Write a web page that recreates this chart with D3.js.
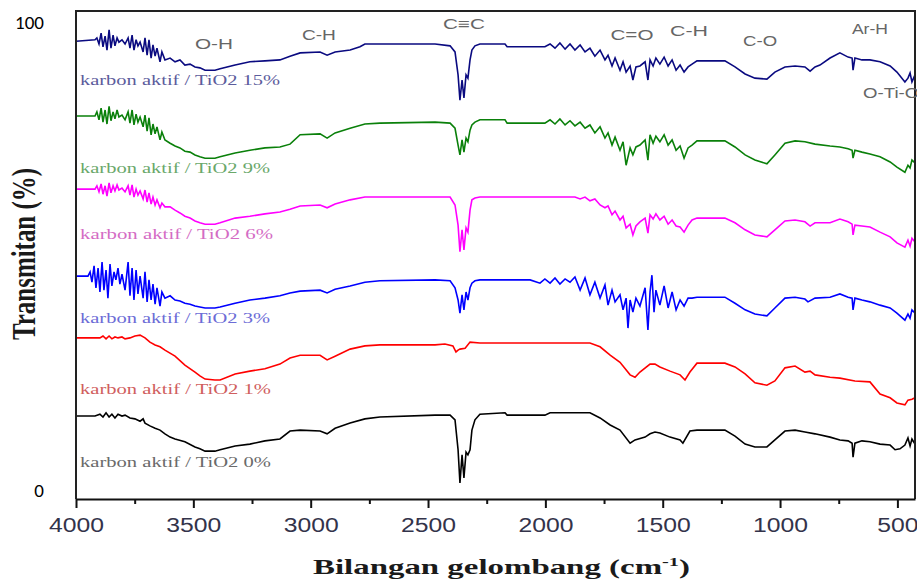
<!DOCTYPE html>
<html><head><meta charset="utf-8">
<script src="https://cdn.jsdelivr.net/npm/d3@7"></script>
<style>body{margin:0;background:#fff}svg{display:block}</style>
</head><body><svg id="c" width="917" height="580"></svg>
<script>
// ---------- data ----------
const xTickValues = [4000,3500,3000,2500,2000,1500,1000,500];
const xMinorTicks = [3750,3250,2750,2250,1750,1250,750];
const yTickLabels = [0,100];
const seriesNames = ["karbon aktif / TiO2 15%","karbon aktif / TiO2 9%","karbon aktif / TiO2 6%","karbon aktif / TiO2 3%","karbon aktif / TiO2 1%","karbon aktif / TiO2 0%"];
const bandLabels = [["O-H",3412],["C-H",2965],["C\u2261C",2347],["C=O",1631],["C-H",1388],["C-O",1085],["Ar-H",617],["O-Ti-O",646]];

const s15 = [[4000,95.9],[3919,96.2],[3911,96.6],[3902,95.3],[3893,97.6],[3885,94.7],[3876,97.0],[3868,94.0],[3859,98.3],[3851,94.4],[3842,97.2],[3834,94.9],[3825,96.6],[3817,95.7],[3804,96.2],[3791,95.3],[3778,96.6],[3770,94.4],[3761,97.2],[3753,94.0],[3744,96.2],[3736,94.9],[3727,95.7],[3714,93.6],[3706,96.6],[3697,92.9],[3689,96.2],[3680,92.3],[3672,95.1],[3663,92.7],[3655,94.4],[3642,91.5],[3634,93.6],[3621,91.9],[3599,92.3],[3578,91.5],[3557,91.9],[3536,90.8],[3514,91.0],[3493,90.4],[3472,90.2],[3450,89.7],[3408,89.7],[3386,90.0],[3322,90.8],[3259,91.5],[3195,91.7],[3131,91.9],[3088,92.7],[3045,93.4],[2960,93.6],[2930,92.9],[2896,93.6],[2832,94.0],[2790,94.7],[2769,95.3],[2470,95.3],[2406,94.9],[2385,93.6],[2372,88.7],[2364,83.3],[2355,87.6],[2347,83.8],[2338,88.7],[2330,88.0],[2321,91.9],[2313,94.0],[2300,94.9],[2279,95.3],[2172,95.3],[2163,94.7],[2002,94.7],[1980,95.3],[1959,94.4],[1938,95.5],[1916,94.2],[1895,95.3],[1874,94.0],[1852,95.1],[1831,93.6],[1810,94.4],[1789,92.7],[1767,94.0],[1746,91.9],[1733,92.9],[1716,90.6],[1703,92.3],[1682,89.7],[1669,91.5],[1656,89.3],[1639,90.6],[1627,87.6],[1614,90.4],[1597,90.6],[1575,91.5],[1563,87.6],[1554,91.9],[1541,90.6],[1529,92.3],[1512,91.0],[1494,92.5],[1477,90.6],[1460,91.9],[1443,89.7],[1426,90.8],[1409,89.3],[1392,90.4],[1375,91.0],[1354,91.7],[1235,91.7],[1192,90.4],[1149,88.9],[1107,88.0],[1056,87.8],[1022,89.3],[979,90.4],[936,90.6],[894,90.4],[872,89.5],[851,90.4],[830,90.8],[787,92.3],[745,93.4],[710,92.5],[693,92.3],[689,89.7],[681,92.3],[651,91.9],[617,91.9],[574,91.5],[531,90.6],[502,89.3],[468,87.2],[455,88.0],[446,89.1],[438,87.2],[425,88.7]];

const s9 = [[4000,79.9],[3919,79.9],[3911,80.8],[3902,79.1],[3893,81.6],[3885,78.6],[3876,81.2],[3868,78.2],[3859,82.0],[3851,78.9],[3842,80.8],[3834,79.3],[3825,81.2],[3817,79.7],[3804,80.1],[3791,79.1],[3778,80.8],[3770,78.4],[3761,81.2],[3753,78.0],[3744,80.3],[3736,78.6],[3727,79.7],[3714,77.6],[3706,80.1],[3697,76.7],[3689,79.5],[3680,75.9],[3672,78.2],[3663,76.1],[3655,77.6],[3642,74.8],[3634,76.5],[3621,74.8],[3599,74.1],[3578,73.5],[3557,73.1],[3536,72.4],[3514,72.2],[3493,71.6],[3472,71.2],[3450,70.9],[3408,70.9],[3386,71.2],[3322,72.0],[3259,72.6],[3195,73.1],[3131,73.3],[3088,73.9],[3045,75.9],[2960,76.1],[2930,75.2],[2896,76.3],[2832,77.3],[2769,78.2],[2705,78.4],[2470,78.6],[2406,78.4],[2385,77.3],[2372,73.7],[2364,71.6],[2355,74.8],[2347,72.2],[2338,75.2],[2330,74.4],[2321,76.9],[2313,78.0],[2300,78.6],[2279,79.1],[2172,79.1],[2163,78.4],[2002,78.4],[1980,79.1],[1959,78.2],[1938,79.3],[1916,78.0],[1895,78.9],[1874,77.8],[1852,78.6],[1831,77.3],[1810,78.0],[1789,76.3],[1767,77.6],[1746,75.2],[1733,76.3],[1716,73.7],[1703,75.4],[1682,72.6],[1669,74.4],[1656,69.4],[1639,73.1],[1627,71.6],[1614,73.3],[1597,73.7],[1575,74.8],[1563,70.5],[1554,75.9],[1541,74.1],[1529,75.6],[1512,74.4],[1494,75.9],[1477,73.7],[1460,74.8],[1443,72.6],[1426,73.5],[1409,70.9],[1392,73.1],[1375,73.7],[1354,74.6],[1235,74.6],[1192,73.3],[1149,71.6],[1107,70.5],[1056,69.7],[1022,71.6],[979,74.1],[936,74.6],[894,74.4],[851,73.9],[787,73.5],[745,73.3],[710,72.9],[693,72.6],[689,70.9],[681,72.6],[651,72.2],[617,71.8],[574,71.2],[531,70.1],[502,69.0],[468,67.9],[455,69.4],[446,68.8],[438,70.5],[425,69.9]];

const s6 = [[4000,64.3],[3919,64.3],[3911,65.0],[3902,63.7],[3893,65.4],[3885,63.2],[3876,65.0],[3868,62.8],[3859,65.6],[3851,63.5],[3842,65.0],[3834,63.9],[3825,65.2],[3817,64.1],[3804,64.5],[3791,63.7],[3778,65.0],[3770,63.0],[3761,65.2],[3753,62.6],[3744,64.3],[3736,63.0],[3727,63.9],[3714,62.2],[3706,64.1],[3697,61.5],[3689,63.5],[3680,61.1],[3672,62.6],[3663,60.9],[3655,62.0],[3642,60.3],[3634,61.3],[3621,60.5],[3599,60.5],[3578,59.8],[3557,59.2],[3536,58.5],[3514,58.1],[3493,57.5],[3472,57.1],[3450,56.8],[3408,56.8],[3386,57.1],[3322,58.1],[3259,58.5],[3195,59.0],[3131,59.4],[3088,60.0],[3045,60.7],[2960,60.9],[2930,60.3],[2896,61.1],[2832,62.0],[2769,62.6],[2470,62.6],[2406,62.6],[2385,60.9],[2372,56.6],[2364,50.9],[2355,55.6],[2347,51.3],[2338,56.0],[2330,55.1],[2321,59.8],[2313,62.0],[2300,62.4],[2279,62.6],[1874,62.6],[1852,62.2],[1831,62.6],[1810,61.8],[1789,62.2],[1767,60.9],[1746,60.3],[1733,60.7],[1716,58.8],[1703,59.6],[1682,57.7],[1669,58.5],[1656,56.0],[1639,56.8],[1627,54.5],[1614,56.4],[1597,57.3],[1575,58.1],[1563,54.9],[1554,58.8],[1541,57.9],[1529,59.0],[1512,57.7],[1494,58.5],[1477,56.8],[1460,57.7],[1443,56.4],[1426,56.2],[1409,55.1],[1392,56.6],[1375,57.7],[1354,58.1],[1235,58.1],[1192,57.1],[1149,55.6],[1107,54.5],[1056,54.1],[1022,55.6],[979,57.5],[936,57.7],[894,57.3],[872,56.4],[851,57.1],[787,57.1],[745,57.9],[710,57.3],[693,56.8],[689,54.5],[681,56.6],[651,56.4],[617,56.2],[574,55.1],[531,54.1],[502,52.8],[468,51.9],[455,53.4],[446,52.1],[438,53.8],[425,53.0]];

const s3 = [[4000,45.7],[3949,45.7],[3940,46.6],[3932,44.4],[3923,47.9],[3915,43.2],[3906,47.4],[3898,42.3],[3889,48.7],[3881,42.7],[3872,47.0],[3864,41.0],[3855,48.3],[3847,43.6],[3838,46.6],[3830,44.9],[3821,47.4],[3813,44.0],[3804,46.1],[3791,42.7],[3778,48.7],[3770,41.5],[3761,47.4],[3753,40.6],[3744,47.0],[3736,41.9],[3727,45.7],[3714,41.0],[3706,46.6],[3697,40.2],[3689,44.9],[3680,40.6],[3672,44.0],[3663,39.7],[3655,43.2],[3642,39.3],[3634,42.3],[3621,41.0],[3599,41.5],[3578,40.6],[3557,40.4],[3536,39.9],[3514,39.7],[3493,39.3],[3472,39.1],[3450,38.9],[3408,38.9],[3386,39.1],[3322,39.9],[3259,40.6],[3195,41.0],[3131,41.5],[3088,42.1],[3045,42.5],[2960,42.7],[2930,42.1],[2896,42.9],[2832,43.6],[2769,44.4],[2705,44.7],[2470,44.9],[2406,44.7],[2385,43.2],[2372,40.6],[2364,37.8],[2355,41.7],[2347,38.5],[2338,42.3],[2330,40.6],[2321,43.2],[2313,44.2],[2300,44.7],[2279,44.9],[2065,44.9],[2023,44.2],[2002,45.1],[1980,44.2],[1959,45.3],[1938,44.0],[1916,45.1],[1895,44.4],[1874,45.5],[1852,42.7],[1831,45.3],[1810,41.7],[1789,44.4],[1767,41.0],[1746,43.8],[1733,39.5],[1716,42.7],[1703,40.2],[1682,41.7],[1669,38.5],[1656,41.0],[1648,34.6],[1639,40.6],[1627,38.0],[1614,41.0],[1597,39.3],[1575,43.2],[1563,34.2],[1554,42.3],[1546,45.9],[1537,38.0],[1529,42.7],[1512,39.5],[1494,43.6],[1477,38.9],[1460,42.3],[1443,38.5],[1426,40.6],[1409,39.3],[1392,41.0],[1375,41.0],[1354,41.2],[1235,41.2],[1192,39.9],[1149,38.5],[1107,37.6],[1056,37.2],[1022,38.9],[979,41.0],[936,41.2],[894,40.8],[881,40.2],[851,41.0],[787,41.2],[745,41.9],[710,41.2],[693,41.0],[689,38.5],[681,41.0],[651,40.6],[617,40.2],[574,39.5],[531,38.9],[502,37.8],[468,36.3],[455,37.6],[446,36.7],[438,38.5],[425,37.8]];

const s1 = [[4000,32.5],[3898,32.5],[3885,32.9],[3872,32.3],[3859,32.9],[3847,32.3],[3834,32.7],[3821,32.5],[3804,32.7],[3791,32.3],[3770,32.5],[3749,32.9],[3727,33.1],[3706,32.5],[3685,31.6],[3663,31.0],[3642,30.6],[3621,29.9],[3578,28.6],[3536,26.7],[3493,25.2],[3472,24.4],[3450,23.7],[3408,23.5],[3386,23.5],[3322,24.8],[3259,25.4],[3195,25.9],[3131,26.9],[3088,28.2],[3045,28.8],[2960,28.8],[2930,27.8],[2896,28.6],[2832,30.1],[2769,30.8],[2705,31.0],[2470,31.0],[2428,31.2],[2394,30.8],[2381,29.5],[2372,29.9],[2364,30.1],[2342,30.3],[2321,31.6],[2279,31.4],[1810,31.4],[1767,30.6],[1724,28.8],[1682,27.3],[1639,24.6],[1618,24.1],[1597,25.2],[1554,26.9],[1533,26.9],[1512,26.3],[1469,25.4],[1426,24.6],[1405,23.5],[1384,25.2],[1354,27.1],[1235,27.1],[1192,26.3],[1149,24.8],[1107,22.9],[1056,22.4],[1022,23.3],[979,26.1],[936,26.5],[894,25.2],[872,25.4],[851,24.6],[787,24.1],[745,23.9],[681,23.3],[617,23.1],[574,20.5],[531,19.7],[502,18.6],[468,18.2],[455,19.2],[438,19.4],[425,19.7]];

const s0 = [[4000,15.8],[3919,15.8],[3898,16.2],[3885,15.6],[3872,16.5],[3859,15.6],[3847,16.2],[3834,15.4],[3821,16.2],[3804,15.8],[3791,16.0],[3770,15.4],[3749,15.2],[3727,14.7],[3714,15.2],[3706,14.3],[3685,13.7],[3663,13.2],[3642,12.8],[3621,12.0],[3599,11.3],[3578,10.9],[3536,10.3],[3493,9.2],[3472,8.8],[3450,8.3],[3408,8.3],[3386,8.6],[3322,9.4],[3259,9.8],[3195,10.5],[3131,10.9],[3088,12.6],[3045,12.8],[2960,12.6],[2930,12.0],[2896,13.2],[2832,14.3],[2769,15.2],[2705,15.6],[2470,16.0],[2406,16.0],[2385,15.0],[2372,8.6],[2364,1.5],[2355,7.5],[2347,2.6],[2338,8.1],[2330,7.5],[2321,8.6],[2313,12.8],[2300,15.0],[2279,16.2],[2172,16.5],[2163,16.0],[2002,16.0],[1980,16.5],[1810,16.5],[1767,15.4],[1724,13.9],[1682,12.8],[1639,10.0],[1618,10.7],[1575,11.3],[1554,12.0],[1533,12.4],[1512,12.2],[1469,11.3],[1426,10.7],[1414,10.0],[1384,12.6],[1354,12.8],[1235,12.8],[1192,11.5],[1149,9.8],[1107,9.2],[1056,9.2],[1022,10.7],[979,12.6],[936,12.8],[894,12.4],[851,12.0],[787,11.3],[745,10.7],[710,10.5],[693,10.0],[689,7.0],[681,10.0],[651,10.5],[617,10.3],[574,9.8],[531,9.6],[510,8.6],[489,8.8],[468,9.6],[455,11.1],[446,9.4],[438,10.9],[425,9.8]];

// ---------- layout / style ----------
const lineColors = ["#0a0a80","#0a800a","#ff00ff","#0000ff","#ff0000","#000000"];
const labelColors = ["#5c5c9c","#6aa86a","#d46cc4","#6c6cd6","#d05e5e","#6a6a6a"];
const labelBaselines = [85,173,239,323,394,467];
const labelWidths = [200,190,193,190,191,191];
const bandY = [48.5,39.5,29,39.5,35.5,45.5,33.5,97.5];
const bandW = [38,34,42,43,38,34,36,56];

const svg = d3.select('#c');
const L=76, R=915, T=11, B=499;
const x = d3.scaleLinear().domain([4000,425]).range([L,R]);
const y = d3.scaleLinear().domain([0,100]).range([490,22]);

const seriesData = [s15,s9,s6,s3,s1,s0];
const line = d3.line().x(d=>x(d[0])).y(d=>y(d[1]));

svg.append('defs').append('clipPath').attr('id','clip')
  .append('rect').attr('x',L).attr('y',T).attr('width',R-L).attr('height',B-T);

const g = svg.append('g').attr('clip-path','url(#clip)');
seriesData.forEach((d,i)=>{
  g.append('path').datum(d).attr('d',line).attr('fill','none')
   .attr('stroke',lineColors[i]).attr('stroke-width',1.6).attr('stroke-linejoin','miter');
});

// frame
svg.append('path').attr('d',`M${L},${B}V${T}H${R}V${B}`).attr('fill','none').attr('stroke','#222').attr('stroke-width',2);

// x axis
const ax = svg.append('g').attr('transform',`translate(0,${B})`)
  .call(d3.axisBottom(x).tickValues(xTickValues).tickSize(9).tickSizeOuter(0).tickPadding(10).tickFormat(d3.format('d')));
ax.select('.domain').attr('stroke','#111').attr('stroke-width',2);
ax.selectAll('.tick line').attr('stroke','#111').attr('stroke-width',2);
ax.selectAll('.tick text').attr('font-family','"Liberation Sans",Arial,sans-serif').attr('font-size',20).attr('fill','#33334a')
  .each(function(d){ d3.select(this).attr('textLength',String(d).length*13.75).attr('lengthAdjust','spacingAndGlyphs'); });
const axm = svg.append('g').attr('transform',`translate(0,${B})`)
  .call(d3.axisBottom(x).tickValues(xMinorTicks).tickSize(5).tickFormat(''));
axm.select('.domain').remove();
axm.selectAll('.tick line').attr('stroke','#111').attr('stroke-width',2);

// y labels
svg.selectAll('.ylab').data(yTickLabels).enter().append('text')
  .attr('x',44).attr('y',d=>y(d)).attr('dy','0.35em').attr('text-anchor','end')
  .attr('font-family','Carlito,"Liberation Sans",Arial,sans-serif').attr('font-size',19).attr('fill','#000')
  .text(d=>d);

// series labels
seriesNames.forEach((n,i)=>{
  svg.append('text').attr('x',80).attr('y',labelBaselines[i])
    .attr('font-family','"Liberation Serif","Times New Roman",serif').attr('font-size',15)
    .attr('fill',labelColors[i]).attr('textLength',labelWidths[i]).attr('lengthAdjust','spacingAndGlyphs')
    .text(n);
});

// band labels
bandLabels.forEach((b,i)=>{
  const last = i===bandLabels.length-1;
  svg.append('text').attr('x',x(b[1])).attr('y',bandY[i])
    .attr('text-anchor', last?'start':'middle')
    .attr('font-family','"Liberation Sans",Arial,sans-serif').attr('font-size',15).attr('fill','#666')
    .attr('textLength',bandW[i]).attr('lengthAdjust','spacingAndGlyphs')
    .text(b[0]);
});

// axis titles
svg.append('text').attr('transform','translate(35,254) scale(1.38,1) rotate(-90)')
  .attr('text-anchor','middle').attr('font-family','"Liberation Serif","Times New Roman",serif')
  .attr('font-weight','bold').attr('font-size',24).attr('fill','#1a1a1a')
  .attr('textLength',172).attr('lengthAdjust','spacingAndGlyphs')
  .text('Transmitan (%)');

const xt = svg.append('text').attr('x',501.5).attr('y',574).attr('text-anchor','middle')
  .attr('font-family','"Liberation Serif","Times New Roman",serif').attr('font-weight','bold')
  .attr('font-size',21).attr('fill','#1a1a1a')
  .attr('textLength',377).attr('lengthAdjust','spacingAndGlyphs');
xt.append('tspan').text('Bilangan gelombang (cm');
xt.append('tspan').attr('dy',-8).attr('font-size',13).text('-1');
xt.append('tspan').attr('dy',8).text(')');
</script></body></html>
